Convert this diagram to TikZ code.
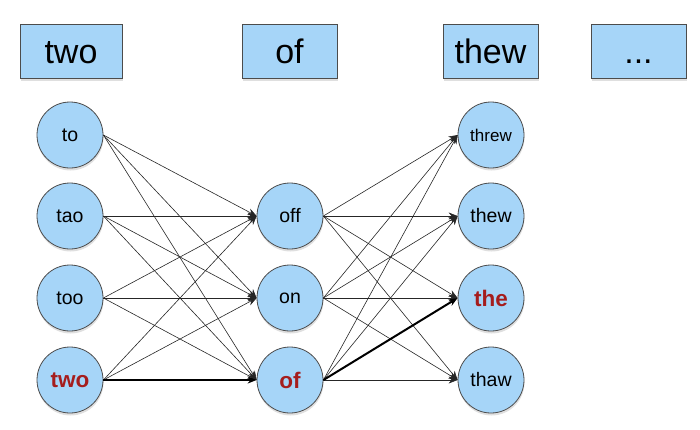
\documentclass[tikz,border=0pt]{standalone}
\usepackage{fontspec}
\setmainfont{Liberation Sans}
\usetikzlibrary{arrows.meta,shadows}
\definecolor{statefill}{HTML}{A6D5F8}
\definecolor{hitred}{HTML}{A51D1D}
\tikzset{>={Stealth[length=9pt,width=7pt]},
  word/.style={draw=black!70, line width=0.8pt, fill=statefill, minimum width=95pt, minimum height=54pt,
    inner sep=0pt, text height=24pt, text depth=0pt, font=\fontsize{34}{40}\selectfont,
    drop shadow={shadow xshift=0.5pt, shadow yshift=-2.5pt, opacity=0.25}},
  state/.style={circle, draw=black!70, line width=0.8pt, fill=statefill, minimum size=66pt, inner sep=0pt,
    font=\fontsize{19.5}{22}\selectfont,
    drop shadow={shadow xshift=0.5pt, shadow yshift=-2.5pt, opacity=0.25}},
  best/.style={font=\fontsize{22.5}{26}\selectfont\bfseries, text=hitred},
  edge/.style={->, line width=0.6pt, black!85},
  path/.style={->, line width=2pt, black}}

\begin{document}
\begin{tikzpicture}[x=1pt,y=-1pt]
    \useasboundingbox (0,0) rectangle (700,429);
    % observed words
    \node[word, minimum width=102pt] (b1) at (71,51) {two};
    \node[word] (b2) at (289.5,51) {of};
    \node[word] (b3) at (490.5,51) {thew};
    \node[word] (b4) at (638.5,51) {...};
    % candidates
    \node[state] (l1) at (70,135) {to};
    \node[state] (l2) at (70,216) {tao};
    \node[state] (l3) at (70,298) {too};
    \node[state, best] (l4) at (70,380) {two};
    \node[state] (m1) at (290,216) {off};
    \node[state] (m2) at (290,298) {on};
    \node[state, best] (m3) at (290,380) {of};
    \node[state, font=\fontsize{17}{20}\selectfont] (r1) at (491,135) {threw};
    \node[state] (r2) at (491,216) {thew};
    \node[state, best] (r3) at (491,298) {the};
    \node[state] (r4) at (491,380) {thaw};
    % transitions
    \foreach \i in {1,...,4}
      \foreach \j in {1,2,3}
        {\ifnum\i\j=43 \else \draw[edge] (l\i.east) -- (m\j.west); \fi}
    \foreach \i in {1,2,3}
      \foreach \j in {1,...,4}
        {\ifnum\i\j=33 \else \draw[edge] (m\i.east) -- (r\j.west); \fi}
    \draw[path] (l4.east) -- (m3.west);
    \draw[path] (m3.east) -- (r3.west);
\end{tikzpicture}
\end{document}
